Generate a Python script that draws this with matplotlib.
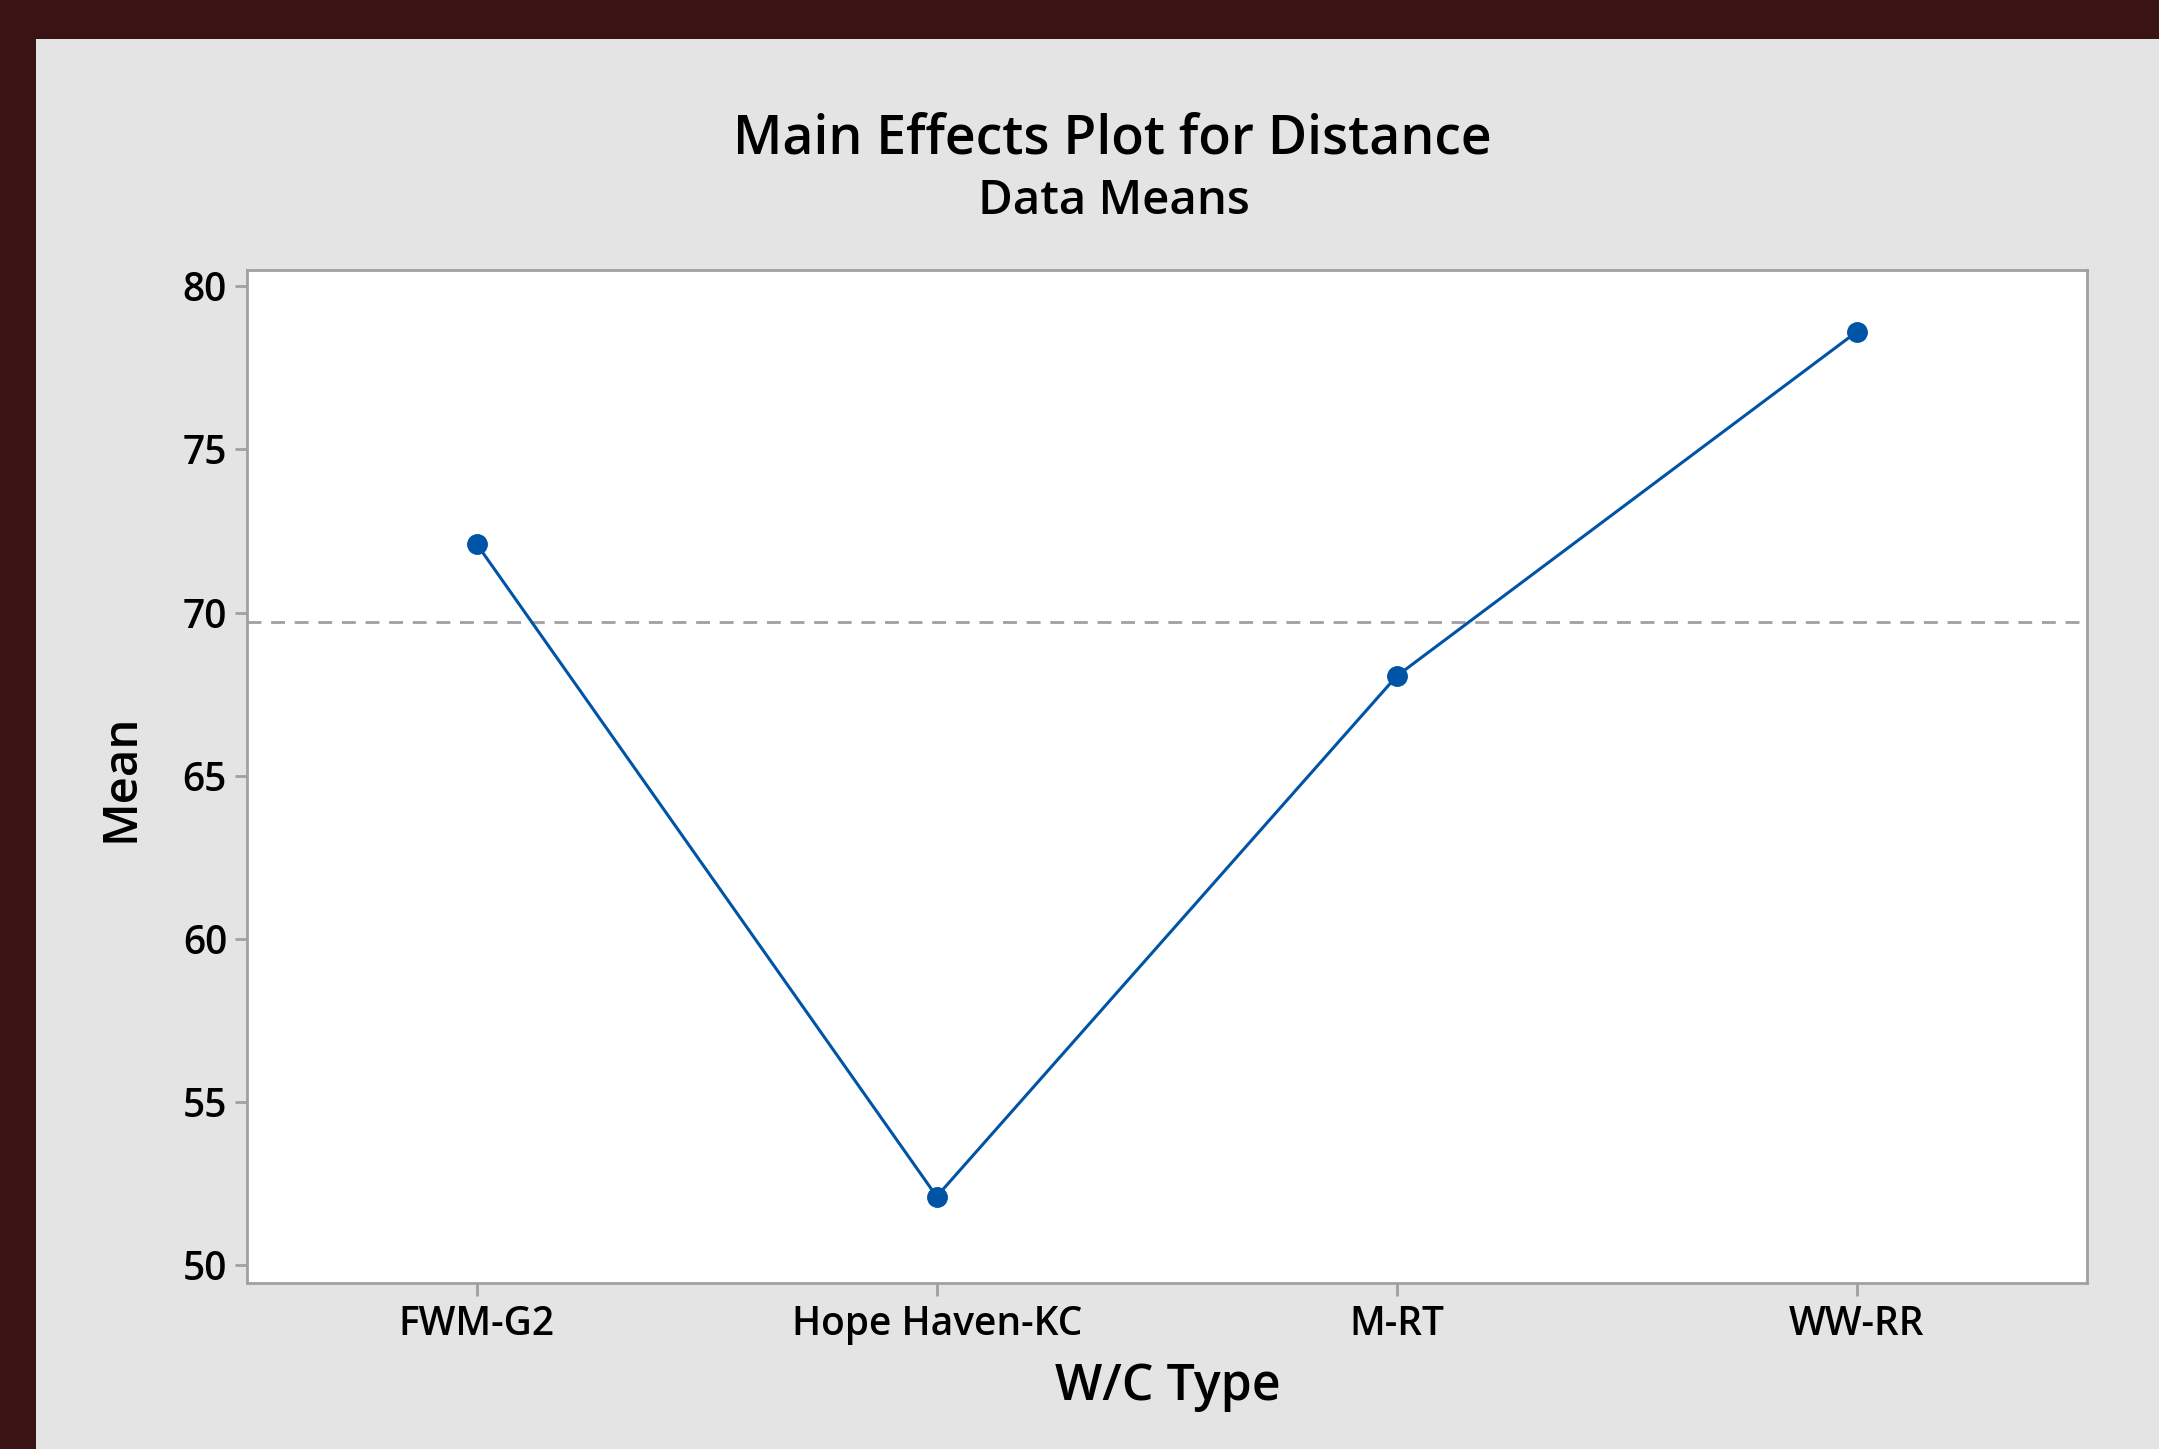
import matplotlib
matplotlib.use("Agg")
import matplotlib.pyplot as plt
from matplotlib.patches import Rectangle

categories = ["FWM-G2", "Hope Haven-KC", "M-RT", "WW-RR"]
means = [72.11, 52.11, 68.06, 78.61]
overall_mean = 69.70
yticks = [50, 55, 60, 65, 70, 75, 80]

W, H = 2159, 1449
plt.rcParams['font.family'] = ['Open Sans', 'DejaVu Sans']
fig = plt.figure(figsize=(W / 100, H / 100), dpi=100)
fig.patch.set_facecolor('#3a1414')

bg = fig.add_axes([0, 0, 1, 1], zorder=-10)
bg.set_xlim(0, W)
bg.set_ylim(H, 0)
bg.axis('off')
bg.add_patch(Rectangle((36, 39), W - 36, H - 39, facecolor='#e4e4e4', edgecolor='none'))

left, right, top, bottom = 246.5, 2087, 270, 1283
ax = fig.add_axes([left / W, 1 - bottom / H, (right - left) / W, (bottom - top) / H], zorder=1)
ax.set_facecolor('white')
x = list(range(len(categories)))
ax.axhline(overall_mean, color='#a0a0a0', lw=2, dashes=(5, 3.5), zorder=1)
ax.plot(x, means, color='#0054a6', lw=2.2, marker='o', markersize=14,
        markerfacecolor='#0054a6', markeredgecolor='#0054a6', zorder=3)
ax.set_xlim(-0.5, 3.5)
ax.set_ylim(49.46, 80.5)
ax.set_xticks(x)
ax.set_xticklabels(categories)
ax.set_yticks(yticks)
for s in ax.spines.values():
    s.set_color('#a0a0a0')
    s.set_linewidth(2)
ax.tick_params(axis='both', colors='#a0a0a0', width=2, length=9, labelcolor='black',
               labelsize=28)
ax.tick_params(axis='x', pad=7)
ax.tick_params(axis='y', pad=5)
for lab in ax.get_xticklabels() + ax.get_yticklabels():
    lab.set_fontweight(600)

fig.text(1112 / W, 1 - 140 / H, "Main Effects Plot for Distance", ha='center', va='center',
         fontsize=38.6, fontweight=600)
fig.text(1114 / W, 1 - 202 / H, "Data Means", ha='center', va='center', fontsize=34,
         fontweight=600)
fig.text(121 / W, 1 - 778 / H, "Mean", ha='center', va='center', fontsize=34, rotation=90,
         fontweight=600)
fig.text(1168 / W, 1 - 1387 / H, "W/C Type", ha='center', va='center', fontsize=36,
         fontweight=600)

fig.savefig("out.png", dpi=100, facecolor=fig.get_facecolor())
